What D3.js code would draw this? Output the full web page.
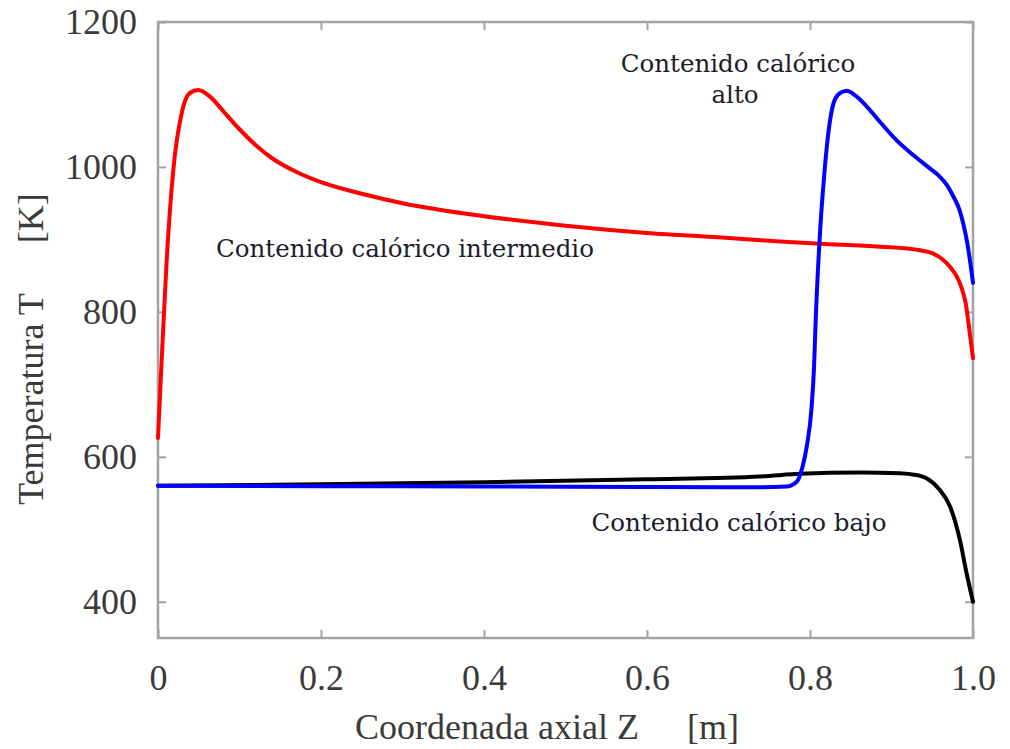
<!DOCTYPE html>
<html>
<head>
<meta charset="utf-8">
<script src="https://cdn.jsdelivr.net/npm/d3@7"></script>
<style>
  html, body { margin: 0; padding: 0; background: #fff; }
  svg { display: block; }
</style>
</head>
<body>
<svg id="chart" width="1010" height="749"></svg>
<script>
// Axial position Z [m] and temperature T [K] for each heat-content case
const redZ = [0, 0.0045, 0.0107, 0.0188, 0.029, 0.039, 0.0494, 0.0638, 0.08, 0.1, 0.12, 0.14, 0.17, 0.2, 0.25, 0.3, 0.4, 0.5, 0.6, 0.7, 0.763, 0.812, 0.886, 0.935, 0.950, 0.962, 0.972, 0.980, 0.986, 0.991, 0.995, 1.0];
const redT = [626, 733, 872, 996, 1074, 1102, 1106, 1097, 1077, 1052, 1030, 1012, 993, 979, 963, 950, 932, 919, 909, 902, 897, 894, 890, 885, 881, 873, 862, 849, 833, 812, 780, 736];

const blueZ = [0, 0.2, 0.4, 0.6, 0.739, 0.771, 0.784, 0.791, 0.796, 0.802, 0.805, 0.807, 0.812, 0.818, 0.822, 0.8295, 0.837, 0.845, 0.855, 0.870, 0.886, 0.906, 0.927, 0.947, 0.958, 0.968, 0.976, 0.983, 0.988, 0.993, 1.0];
const blueT = [560, 559.5, 559, 558.5, 558, 559, 566, 587, 614, 669, 725, 789, 904, 996, 1042, 1090, 1102, 1105, 1099, 1083, 1062, 1037, 1016, 998, 988, 975, 959, 942, 922, 895, 840];

const blackZ = [0, 0.2, 0.4, 0.6, 0.739, 0.788, 0.861, 0.910, 0.930, 0.945, 0.958, 0.972, 0.984, 0.992, 1.0];
const blackT = [560, 562, 565, 569, 573, 576.5, 578.4, 577.5, 575, 569, 556, 531, 485, 440, 400];

const xTicks = [0, 0.2, 0.4, 0.6, 0.8, 1.0];
const xTickLabels = ["0", "0.2", "0.4", "0.6", "0.8", "1.0"];
const yTicks = [400, 600, 800, 1000, 1200];

const svg = d3.select("#chart");
const plotLeft = 158, plotRight = 973, plotTop = 22, plotBottom = 638;

const x = d3.scaleLinear().domain([0, 1]).range([plotLeft, plotRight]);
const y = d3.scaleLinear().domain([350, 1200]).range([plotBottom, plotTop]);

const frameColor = "#a3a3a3";
const labelColor = "#3a3a3a";
const serif = "'Liberation Serif', 'Times New Roman', serif";
const annoFont = "'DejaVu Serif', serif";

const line = d3.line()
  .x(d => x(d[0]))
  .y(d => y(d[1]))
  .curve(d3.curveMonotoneX);

const series = [
  { z: blackZ, t: blackT, color: "#000000" },
  { z: redZ, t: redT, color: "#ff0000" },
  { z: blueZ, t: blueT, color: "#0000ff" }
];

// Axes: ticks point inward on all four sides
const tickLen = 8;
svg.append("g")
  .attr("transform", `translate(0,${plotBottom})`)
  .call(d3.axisBottom(x).tickValues(xTicks).tickSize(-tickLen).tickPadding(26)
        .tickFormat((d, i) => xTickLabels[i]))
  .call(g => g.select(".domain").remove());
svg.append("g")
  .attr("transform", `translate(0,${plotTop})`)
  .call(d3.axisTop(x).tickValues(xTicks).tickSize(-tickLen).tickFormat(""))
  .call(g => g.select(".domain").remove());
svg.append("g")
  .attr("transform", `translate(${plotLeft},0)`)
  .call(d3.axisLeft(y).tickValues(yTicks).tickSize(-tickLen).tickPadding(21)
        .tickFormat(d3.format("d")))
  .call(g => g.select(".domain").remove());
svg.append("g")
  .attr("transform", `translate(${plotRight},0)`)
  .call(d3.axisRight(y).tickValues(yTicks).tickSize(-tickLen).tickFormat(""))
  .call(g => g.select(".domain").remove());

svg.selectAll(".tick line").attr("stroke", frameColor).attr("stroke-width", 2);
svg.selectAll(".tick text")
  .attr("fill", labelColor)
  .style("font-family", serif)
  .style("font-size", "36px");

// Frame
svg.append("rect")
  .attr("x", plotLeft).attr("y", plotTop)
  .attr("width", plotRight - plotLeft).attr("height", plotBottom - plotTop)
  .attr("fill", "none")
  .attr("stroke", frameColor)
  .attr("stroke-width", 2.5);

svg.append("g")
  .selectAll("path")
  .data(series)
  .join("path")
  .attr("d", s => line(s.z.map((z, i) => [z, s.t[i]])))
  .attr("fill", "none")
  .attr("stroke", s => s.color)
  .attr("stroke-width", 4)
  .attr("stroke-linejoin", "round")
  .attr("stroke-linecap", "round");

// Axis titles (quantity, then unit in brackets after a wide gap)
const xt = svg.append("text")
  .attr("x", 355).attr("y", 739)
  .attr("fill", labelColor)
  .style("font-family", serif)
  .style("font-size", "36px");
xt.append("tspan").text("Coordenada axial Z");
xt.append("tspan").attr("dx", 48).text("[m]");

const yt = svg.append("text")
  .attr("transform", "translate(43,505) rotate(-90)")
  .attr("fill", labelColor)
  .style("font-family", serif)
  .style("font-size", "36px");
yt.append("tspan").text("Temperatura T");
yt.append("tspan").attr("dx", 50).text("[K]");

// Curve annotations
const annoColor = "#1c1c2c";
const annos = [
  { text: "Contenido calórico intermedio", x: 405, y: 257 },
  { text: "Contenido calórico", x: 738, y: 72 },
  { text: "alto", x: 735, y: 103 },
  { text: "Contenido calórico bajo", x: 739, y: 531 }
];
svg.append("g")
  .selectAll("text")
  .data(annos)
  .join("text")
  .attr("x", d => d.x).attr("y", d => d.y)
  .attr("text-anchor", "middle")
  .attr("fill", annoColor)
  .style("font-family", annoFont)
  .style("font-size", "24.5px")
  .text(d => d.text);
</script>
</body>
</html>
